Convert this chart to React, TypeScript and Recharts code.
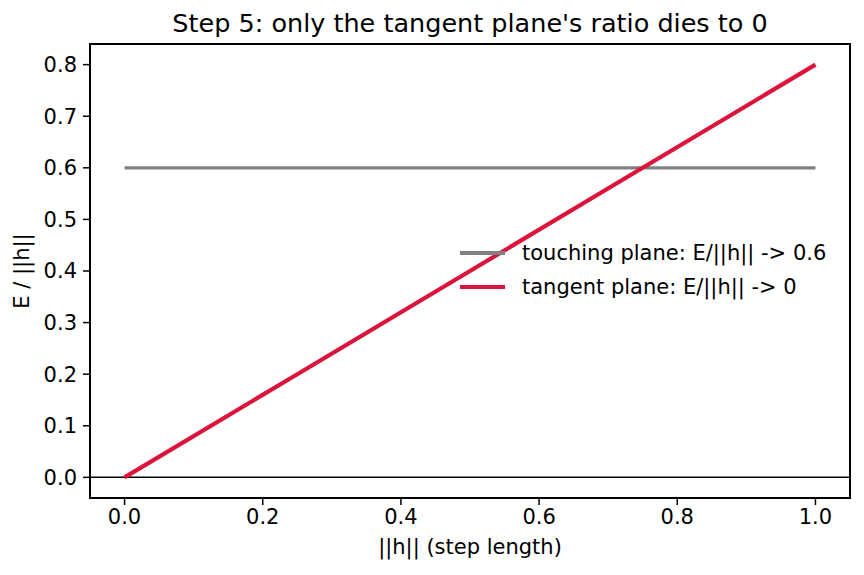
import { LineChart, Line, XAxis, YAxis, ReferenceLine, ReferenceArea, Legend } from 'recharts';

// step length ||h|| and the two error ratios E/||h||
const stepLengths = [0, 0.25, 0.5, 0.75, 1];
const touchingRatio = [0.6, 0.6, 0.6, 0.6, 0.6];
const tangentRatio = [0, 0.2, 0.4, 0.6, 0.8];

const xTicks = [0, 0.2, 0.4, 0.6, 0.8, 1.0];
const yTicks = [0, 0.1, 0.2, 0.3, 0.4, 0.5, 0.6, 0.7, 0.8];

const titleText = "Step 5: only the tangent plane's ratio dies to 0";
const xLabel = '||h|| (step length)';
const yLabel = 'E / ||h||';
const touchingName = 'touching plane: E/||h|| -> 0.6';
const tangentName = 'tangent plane: E/||h|| -> 0';
const legendOrder = ['touching', 'tangent'];

const FONT = '"DejaVu Sans", sans-serif';
const X_DOMAIN: [number, number] = [-0.05, 1.05];
const Y_DOMAIN: [number, number] = [-0.04, 0.84];

const rows = stepLengths.map((h, i) => ({ h, touching: touchingRatio[i], tangent: tangentRatio[i] }));

const tickStyle = { fontFamily: FONT, fontSize: 21, fill: '#000' };

function LegendBox({ payload }: any) {
  const items = [...(payload || [])].sort(
    (a: any, b: any) => legendOrder.indexOf(a.dataKey) - legendOrder.indexOf(b.dataKey),
  );
  return (
    <div style={{ fontFamily: FONT, fontSize: 21, color: '#000' }}>
      {items.map((p: any) => (
        <div key={p.value} style={{ display: 'flex', alignItems: 'center', height: 34 }}>
          <div style={{ width: 45, height: p.dataKey === 'tangent' ? 4 : 3.5, background: p.color, marginRight: 17 }} />
          <span>{p.value}</span>
        </div>
      ))}
    </div>
  );
}

export default function App() {
  return (
    <div style={{ position: 'absolute', left: 0, top: 0, width: 864, height: 575, background: '#fff', fontFamily: FONT }}>
      <div style={{ position: 'absolute', left: 90, width: 760, top: 8, textAlign: 'center', fontSize: 25.5 }}>
        {titleText}
      </div>
      <div style={{ position: 'absolute', left: 90, width: 760, top: 535, textAlign: 'center', fontSize: 21 }}>
        {xLabel}
      </div>
      <div
        style={{
          position: 'absolute', left: 22, top: 271, fontSize: 21, whiteSpace: 'nowrap',
          transform: 'translate(-50%, -50%) rotate(-90deg)',
        }}
      >
        {yLabel}
      </div>
      <LineChart width={864} height={575} data={rows} margin={{ top: 44, right: 14, bottom: 37, left: 20 }}>
        <XAxis
          dataKey="h"
          type="number"
          domain={X_DOMAIN}
          ticks={xTicks}
          allowDataOverflow
          height={40}
          axisLine={false}
          tickSize={7}
          tickMargin={4}
          tickLine={{ stroke: '#000', strokeWidth: 1.5 }}
          tick={tickStyle}
          tickFormatter={(v) => Number(v).toFixed(1)}
        />
        <YAxis
          type="number"
          domain={Y_DOMAIN}
          ticks={yTicks}
          allowDataOverflow
          width={70}
          axisLine={false}
          tickSize={7}
          tickMargin={6}
          tickLine={{ stroke: '#000', strokeWidth: 1.5 }}
          tick={tickStyle}
          tickFormatter={(v) => Number(v).toFixed(1)}
        />
        <ReferenceLine y={0} stroke="#000" strokeWidth={1.5} />
        <Line
          dataKey="touching"
          name={touchingName}
          stroke="#808080"
          strokeWidth={3.3}
          dot={false}
          isAnimationActive={false}
        />
        <Line
          dataKey="tangent"
          name={tangentName}
          stroke="#dc143c"
          strokeWidth={4.2}
          dot={false}
          isAnimationActive={false}
        />
        <ReferenceArea
          x1={X_DOMAIN[0]}
          x2={X_DOMAIN[1]}
          y1={Y_DOMAIN[0]}
          y2={Y_DOMAIN[1]}
          fill="none"
          stroke="#000"
          strokeWidth={2}
          ifOverflow="visible"
        />
        <Legend
          layout="horizontal"
          verticalAlign="middle"
          content={<LegendBox />}
          wrapperStyle={{ position: 'absolute', left: 460, top: 236, width: 400 }}
        />
      </LineChart>
    </div>
  );
}
